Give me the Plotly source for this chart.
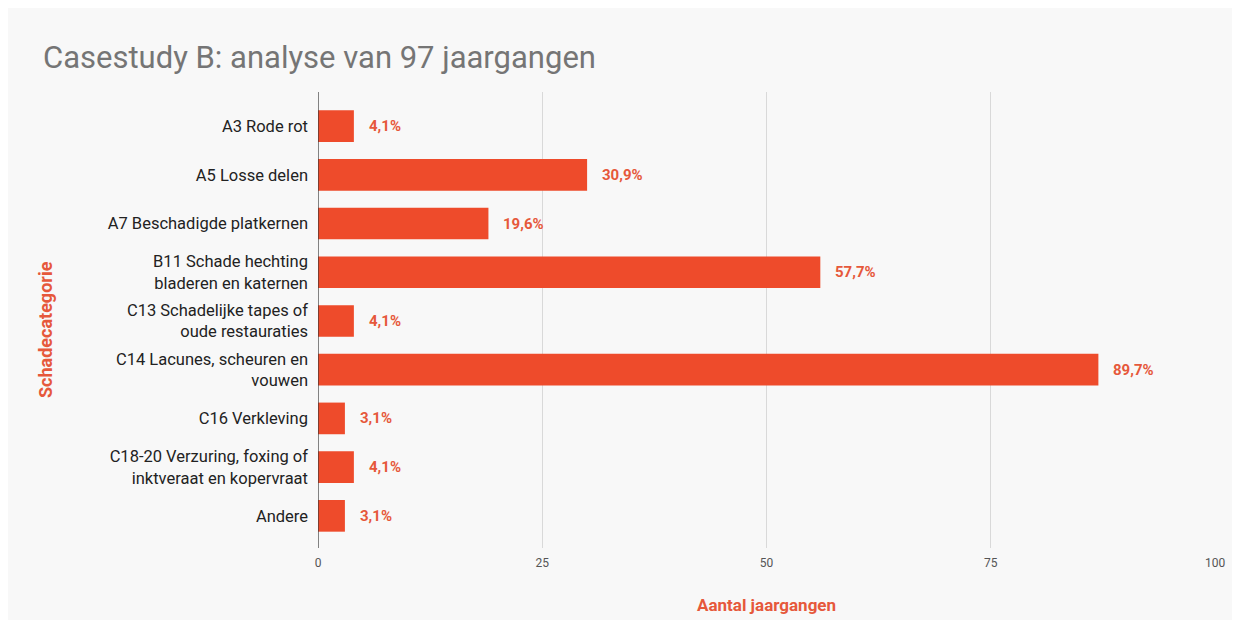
import plotly.graph_objects as go

categories = [
    "A3 Rode rot",
    "A5 Losse delen",
    "A7 Beschadigde platkernen",
    "B11 Schade hechting<br>bladeren en katernen",
    "C13 Schadelijke tapes of<br>oude restauraties",
    "C14 Lacunes, scheuren en<br>vouwen",
    "C16 Verkleving",
    "C18-20 Verzuring, foxing of<br>inktveraat en kopervraat",
    "Andere",
]
counts = [4, 30, 19, 56, 4, 87, 3, 4, 3]
total = 97
x_ticks = [0, 25, 50, 75, 100]

labels = [f"{c / total * 100:.1f}%".replace(".", ",") for c in counts]

BAR = "#EE4B2B"
ACC = "#E6583B"

# page body has an 8px margin; figure covers the grey panel (8..1232, 8..620)
OFF = 8
W, H = 1224, 612
L, R, T, B = 318 - OFF, 1232 - 1215, 92 - OFF, 620 - 548
pw, ph = W - L - R, H - T - B


def px(xp):
    return (xp - OFF - L) / pw


def py(yp):
    return (H - B - (yp - OFF)) / ph


fig = go.Figure()
fig.add_trace(go.Bar(
    x=counts, y=categories, orientation="h",
    marker=dict(color=BAR, line=dict(width=0)),
    width=0.65, hoverinfo="skip",
))

for c, cat, lab in zip(counts, categories, labels):
    fig.add_annotation(x=c, y=cat, text=f"<b>{lab}</b>", showarrow=False,
                       xanchor="left", xshift=13,
                       font=dict(family="Roboto", size=15, color=ACC))

fig.add_annotation(xref="paper", yref="paper", x=px(41), y=py(57),
                   xanchor="left", yanchor="middle", showarrow=False,
                   text="Casestudy B: analyse van 97 jaargangen",
                   font=dict(family="Roboto", size=31, color="#757575"))
fig.add_annotation(xref="paper", yref="paper", x=px(766), y=py(605),
                   xanchor="center", yanchor="middle", showarrow=False,
                   text="<b>Aantal jaargangen</b>",
                   font=dict(family="Roboto", size=17, color=ACC))
fig.add_annotation(xref="paper", yref="paper", x=px(45), y=py(330),
                   xanchor="center", yanchor="middle", showarrow=False, textangle=-90,
                   text="<b>Schadecategorie</b>",
                   font=dict(family="Roboto", size=18, color=ACC))

fig.update_layout(
    width=W, height=H,
    margin=dict(l=L, r=R, t=T, b=B, autoexpand=False),
    paper_bgcolor="#F8F8F8", plot_bgcolor="rgba(0,0,0,0)",
    showlegend=False,
    font=dict(family="Roboto"),
    xaxis=dict(range=[0, 100], tickvals=x_ticks, showgrid=True, gridcolor="#D9D9D9",
               gridwidth=1, zeroline=False, showline=False, ticklabelstandoff=6,
               tickfont=dict(size=12, color="#555555"), ticks="", fixedrange=True),
    yaxis=dict(range=[8.66, -0.70], showgrid=False, zeroline=False,
               showline=False, ticks="", ticklabelstandoff=9,
               tickfont=dict(size=16.5, color="#222222")),
)
fig.add_shape(type="line", xref="x", yref="paper", x0=0, x1=0, y0=0, y1=1,
              line=dict(color="#333333", width=1.2))

fig.write_html("out.html")
